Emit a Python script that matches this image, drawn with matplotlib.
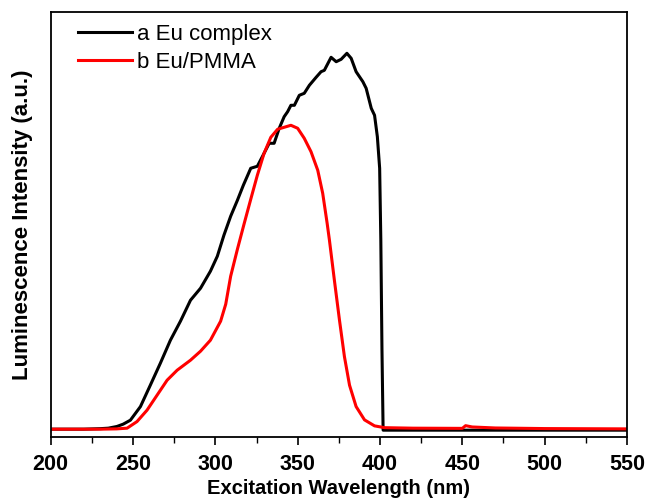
import matplotlib
matplotlib.use("Agg")
from matplotlib import pyplot as plt
from matplotlib.ticker import MultipleLocator

plt.rcParams['font.family'] = ['Liberation Sans', 'DejaVu Sans']

# a Eu complex (black)
wl_a = [200, 220, 230, 235, 240.2, 244, 248.4, 254.5, 260.5, 266.6, 272.7, 278.8, 284.9,
        291, 297, 301.2, 305.2, 309.3, 313.4, 317, 321.5, 325.5, 329.6, 332.7, 335.7,
        338.8, 341.8, 343.9, 345.9, 348, 351, 354, 357.1, 361.2, 364.2, 366.2, 370.3,
        373.4, 376.4, 379.9, 382.5, 385.5, 389.6, 391.6, 394.7, 396.7, 398.4, 399.8,
        400.5, 401.2, 401.9, 410, 450, 500, 550]
int_a = [0, 0, 0.5, 1, 2.7, 5, 9, 22.6, 44, 66, 89, 108, 129,
         141, 158, 173, 194, 213, 229, 244, 261, 263, 276, 286, 286,
         301, 312.6, 317.6, 324, 324, 334, 336, 344, 352, 357.6, 359, 372,
         367.6, 370, 376, 371, 357.6, 347.6, 341, 321, 314, 292.6, 261,
         190, 80, -1, -1, -1, -1, -1]

# b Eu/PMMA (red)
wl_b = [200, 230, 240, 246.4, 252.4, 258.5, 264.6, 270.7, 276.8, 284.9, 291, 297,
        303.2, 306.3, 309.3, 313.4, 317.4, 321.5, 325.5, 329.6, 333.7, 337.8, 341.8,
        345.9, 350, 354, 358.1, 362.2, 365.2, 367.9, 369.3, 372.3, 375.4, 378.4, 381.5,
        385.5, 390.6, 396.7, 402.8, 420, 450, 452, 456, 470, 500, 550]
int_b = [0, 0, 0.3, 1, 7.6, 19, 34, 49, 59, 69, 78, 89,
         108, 125, 153, 180, 205, 230, 254, 276, 292, 300, 302,
         304, 301, 291, 277.6, 259, 236, 206, 189, 149, 109, 72.6, 44,
         22.6, 9.3, 3.3, 1.5, 1, 0.8, 3.5, 2.2, 1.2, 0.6, 0.3]

fig = plt.figure(figsize=(6.46, 5.01), dpi=100)
ax = fig.add_axes([0.0785, 0.128, 0.892, 0.848])

ax.plot(wl_a, int_a, color='black', lw=2.2, label='a Eu complex')
ax.plot(wl_b, int_b, color='red', lw=2.2, label='b Eu/PMMA')

ax.set_xlim(200, 550)
ax.set_ylim(-7.7, 417.3)
ax.xaxis.set_major_locator(MultipleLocator(50))
ax.xaxis.set_minor_locator(MultipleLocator(25))
ax.set_yticks([])
ax.tick_params(axis='x', which='major', direction='out', length=6, width=1.2, labelsize=15.5, pad=6)
ax.tick_params(axis='x', which='minor', direction='out', length=4, width=1.0)
for lab in ax.get_xticklabels():
    lab.set_fontweight('bold')
for s in ax.spines.values():
    s.set_linewidth(1.3)

ax.set_xlabel('Excitation Wavelength (nm)', fontsize=14.5, fontweight='bold', labelpad=3)
ax.set_ylabel('Luminescence Intensity (a.u.)', fontsize=16, fontweight='bold', labelpad=13)

ax.legend(loc='upper left', frameon=False, fontsize=16, handlelength=2.43,
          handletextpad=0.23, labelspacing=0.33, borderpad=0, borderaxespad=0,
          bbox_to_anchor=(0.047, 0.972))

fig.savefig('out.png', dpi=100)
